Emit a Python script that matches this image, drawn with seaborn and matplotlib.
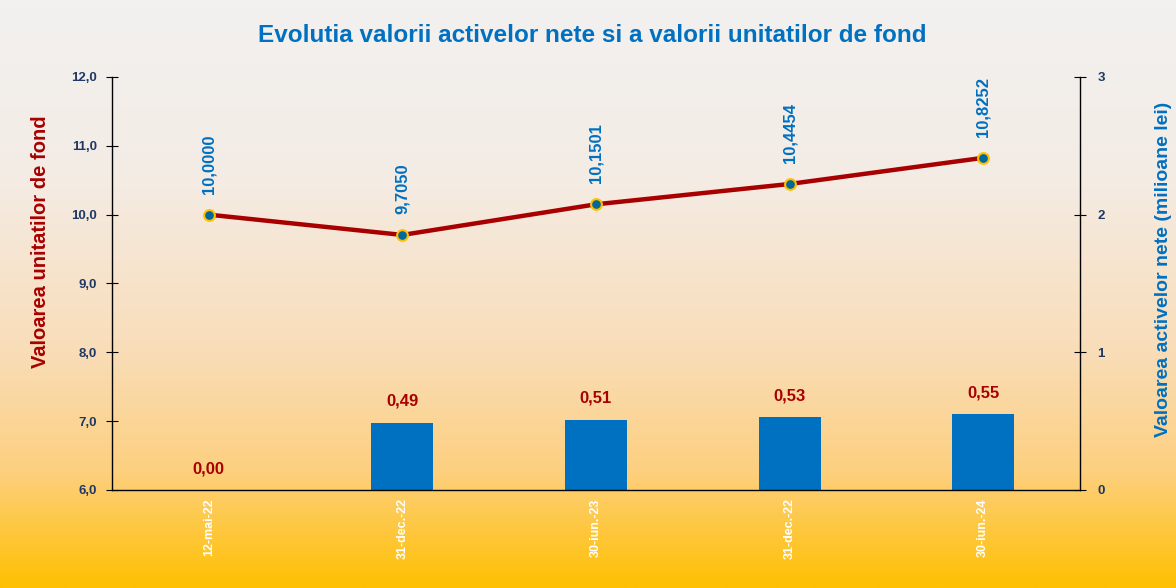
import numpy as np
import matplotlib
matplotlib.use("Agg")
import matplotlib.pyplot as plt
from matplotlib.colors import LinearSegmentedColormap
from matplotlib.ticker import FuncFormatter, FixedLocator
import seaborn as sns

sns.set_theme(style="white")
plt.rcParams["font.family"] = ["Liberation Sans", "DejaVu Sans"]

# date si valori
dates = ["12-mai-22", "31-dec.-22", "30-iun.-23", "31-dec.-22", "30-iun.-24"]
vuan = [10.0000, 9.7050, 10.1501, 10.4454, 10.8252]
vuan_labels = ["10,0000", "9,7050", "10,1501", "10,4454", "10,8252"]
van = [0.00, 0.49, 0.51, 0.53, 0.55]
van_labels = ["0,00", "0,49", "0,51", "0,53", "0,55"]
pos = list(range(len(dates)))

blue = "#0070C0"
red = "#A80000"
navy = "#1F3864"

fig = plt.figure(figsize=(11.76, 5.88), dpi=100)

# fundal gradient
bg = fig.add_axes([0, 0, 1, 1], zorder=-10)
cmap = LinearSegmentedColormap.from_list(
    "bg", [(0, "#F2F1F0"), (0.3, "#F4ECE5"), (0.6, "#F9DDB8"), (0.8, "#FDD080"), (1, "#FFC000")])
bg.imshow(np.linspace(0, 1, 256).reshape(-1, 1), aspect="auto", cmap=cmap,
          extent=[0, 1, 0, 1], origin="upper")
bg.axis("off")

ax = fig.add_axes([0.0952, 0.1667, 0.8231, 0.7024])
ax2 = ax.twinx()

# bare - valoarea activelor nete (axa dreapta)
sns.barplot(x=pos, y=van, ax=ax2, color=blue, width=0.32, saturation=1, linewidth=0)
for p, v, lab in zip(pos, van, van_labels):
    ax2.annotate(lab, (p, v), xytext=(0, 10), textcoords="offset points",
                 ha="center", va="bottom", color=red, fontsize=12, fontweight="bold")

# linie - valoarea unitatii de fond (axa stanga)
sns.lineplot(x=pos, y=vuan, ax=ax, color=red, linewidth=3.2, zorder=3)
ax.scatter(pos, vuan, s=60, color="#00689B", edgecolor="#FFC000", linewidth=1.5, zorder=4)
for p, v, lab in zip(pos, vuan, vuan_labels):
    ax.annotate(lab, (p, v), xytext=(0, 15), textcoords="offset points",
                ha="center", va="bottom", rotation=90, color=blue,
                fontsize=12, fontweight="bold")

ax.set_zorder(ax2.get_zorder() + 1)
ax.patch.set_visible(False)
ax2.set_facecolor("white")

ax.set_xlim(-0.5, 4.5)
ax.set_ylim(6, 12)
ax2.set_ylim(0, 3)
ax.set_yticks(np.arange(6, 12.1, 1))
ax2.set_yticks([0, 1, 2, 3])
ax.yaxis.set_major_formatter(FuncFormatter(lambda v, _: f"{v:.1f}".replace(".", ",")))

ax.set_xticks(pos)
ax.set_xticklabels(dates, rotation=90, color="white", fontsize=9, fontweight="bold")
ax.xaxis.set_minor_locator(FixedLocator([0.5, 1.5, 2.5, 3.5]))
ax.tick_params(axis="x", which="major", length=0, pad=6)
ax.tick_params(axis="x", which="minor", direction="in", length=5, color="black", width=0.8)
ax2.tick_params(axis="x", length=0, labelbottom=False)
ax2.set_xlabel("")

ax.tick_params(axis="y", direction="inout", length=9, color="black", width=0.8,
               labelcolor=navy, labelsize=9.5, pad=6)
ax2.tick_params(axis="y", direction="inout", length=9, color="black", width=0.8,
                labelcolor=navy, labelsize=9.5, pad=8)
for t in ax.get_yticklabels() + ax2.get_yticklabels():
    t.set_fontweight("bold")

for a in (ax, ax2):
    a.spines["top"].set_visible(False)
    for s in ("left", "right", "bottom"):
        a.spines[s].set_color("black")
        a.spines[s].set_linewidth(1)
ax.spines["right"].set_visible(False)
ax2.spines["left"].set_visible(False)
ax2.spines["bottom"].set_visible(False)

ax.set_ylabel("Valoarea unitatilor de fond", color=red, fontsize=14.5,
              fontweight="bold")
ax2.set_ylabel("Valoarea activelor nete (milioane lei)", color=blue, fontsize=14,
               fontweight="bold")
ax.yaxis.set_label_coords(-0.064, 0.60)
ax2.yaxis.set_label_coords(1.078, 0.533)

fig.text(0.504, 0.94, "Evolutia valorii activelor nete si a valorii unitatilor de fond",
         ha="center", va="center", color=blue, fontsize=17.5, fontweight="bold")

fig.savefig("out.png", dpi=100)
